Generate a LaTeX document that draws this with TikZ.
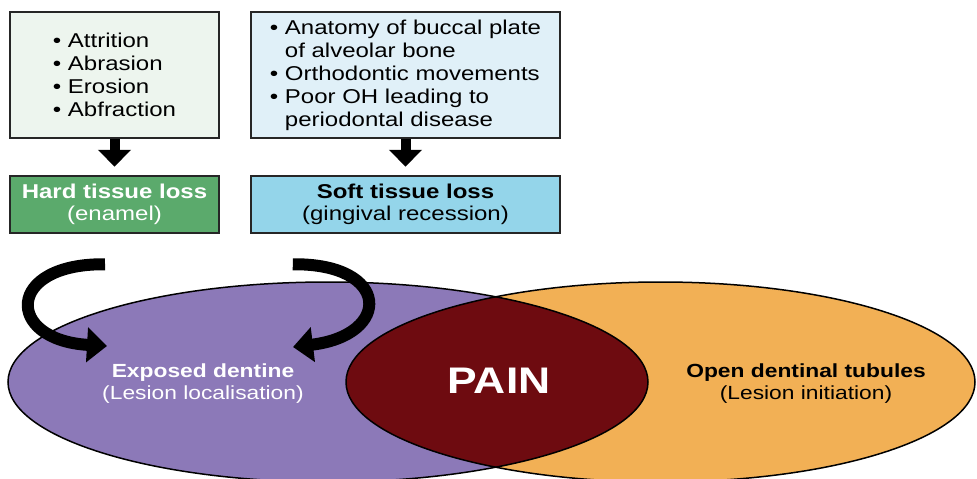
\documentclass[tikz,border=0pt]{standalone}
\usepackage{fontspec}
\setmainfont{Liberation Sans}[FakeStretch=1.2]
\usetikzlibrary{arrows.meta,calc}

\definecolor{listgreen}{HTML}{EDF5EE}
\definecolor{listblue}{HTML}{E0F0F8}
\definecolor{hardgreen}{HTML}{5BAA6C}
\definecolor{softblue}{HTML}{94D5EA}
\definecolor{dentine}{HTML}{8C79B8}
\definecolor{tubule}{HTML}{F2B055}
\definecolor{pain}{HTML}{6E0B10}

\tikzset{
  listbox/.style={draw=black!85, line width=2.5pt, minimum height=126pt, align=left, font=\fontsize{20}{23}\selectfont},
  lossbox/.style={draw=black!85, line width=2.5pt, minimum height=57pt, align=center, font=\fontsize{20}{22}\selectfont},
  downarrow/.style={line width=10pt, -{Triangle[length=17pt,width=32pt]}, shorten >=8pt},
  bendarrow/.style={line width=12pt, -{Triangle[length=20pt,width=34pt]}},
  venntext/.style={align=center, font=\fontsize{19}{22}\selectfont}
}

\begin{document}
\begin{tikzpicture}[x=1pt, y=-1pt]
        \useasboundingbox (0,0) rectangle (977,479);
        \clip (0,0) rectangle (977,479);

        \node[listbox, fill=listgreen, minimum width=209pt] (wear) at (114.5,75)
            {\textbullet\ Attrition\\\textbullet\ Abrasion\\\textbullet\ Erosion\\\textbullet\ Abfraction};
        \node[listbox, fill=listblue, minimum width=309pt] (perio) at (405.5,75)
            {\textbullet\ Anatomy of buccal plate\\\phantom{\textbullet\ }of alveolar bone\\\textbullet\ Orthodontic movements\\\textbullet\ Poor OH leading to\\\phantom{\textbullet\ }periodontal disease};
        \node[lossbox, fill=hardgreen, minimum width=209pt, text=white] (hard) at (114.5,204.5)
            {\textbf{Hard tissue loss}\\(enamel)};
        \node[lossbox, fill=softblue, minimum width=309pt] (soft) at (405.5,204.5)
            {\textbf{Soft tissue loss}\\(gingival recession)};
        \draw[downarrow] (wear) -- (hard);
        \draw[downarrow] (perio) -- (soft);

        \fill[dentine] (328,382) ellipse (320 and 100);
        \fill[tubule] (660.5,382) ellipse (314.5 and 100);
        \begin{scope}
            \clip (328,382) ellipse (320 and 100);
            \fill[pain] (660.5,382) ellipse (314.5 and 100);
        \end{scope}
        \draw[line width=1.5pt] (328,382) ellipse (320 and 100);
        \draw[line width=1.5pt] (660.5,382) ellipse (314.5 and 100);

        \node[venntext, text=white] (exposed) at (203,384) {\textbf{Exposed dentine}\\(Lesion localisation)};
        \node[text=white, font=\fontsize{37}{40}\selectfont\bfseries] (paintext) at (499,381) {PAIN};
        \node[venntext] (tubules) at (806,384) {\textbf{Open dentinal tubules}\\(Lesion initiation)};

        \draw[bendarrow] ($(hard.south)+(-9.5,30)$) .. controls +(-100,-1) and +(-102,-6) .. ($(exposed.center)+(-96,-38)$);
        \draw[bendarrow] ($(soft.south west)+(43,30)$) .. controls +(98,-1) and +(99,-12) .. ($(exposed.center)+(90,-37)$);

    \end{tikzpicture}
\end{document}
